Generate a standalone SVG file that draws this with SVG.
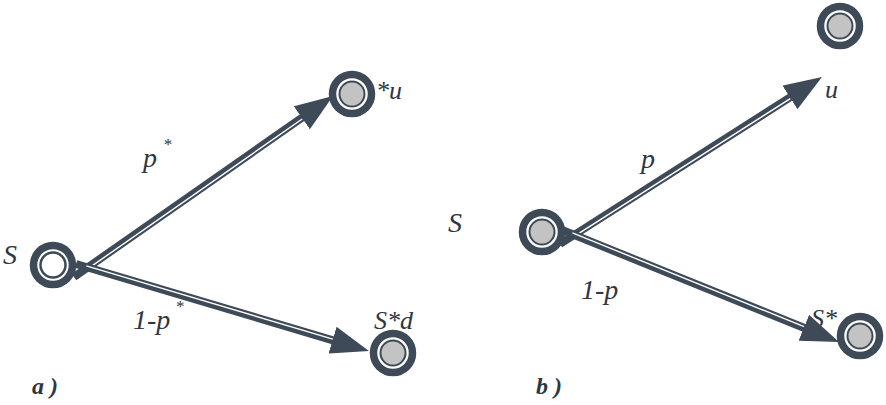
<svg xmlns="http://www.w3.org/2000/svg" width="886" height="405" viewBox="0 0 886 405">
<style>
.lbl{font-family:"Liberation Serif","Times New Roman",serif;font-style:italic;font-size:28px;fill:#2f3640}
.sm{font-size:26px}
.sup{font-size:17px}
.cap{font-family:"Liberation Serif","Times New Roman",serif;font-style:italic;font-weight:bold;font-size:24px;fill:#2f3640}
.line{stroke:#3e4a57;stroke-width:8;fill:none;marker-end:url(#head)}
.gap{stroke:#ffffff;stroke-width:1.4;fill:none}
.ring{fill:#ffffff;stroke:#3e4a57;stroke-width:7.5}
.core{fill:#c3c3c3;stroke:#3e4a57;stroke-width:2}
.core-w{fill:#ffffff;stroke:#3e4a57;stroke-width:2.5}
</style>
<defs>
<marker id="head" markerUnits="userSpaceOnUse" viewBox="0 -14 38 28" markerWidth="38" markerHeight="28" refX="18" refY="0" orient="auto">
<path d="M0,-14 L38,0 L0,14 Z" fill="#3e4a57"/>
</marker>
</defs>
<rect width="886" height="405" fill="#ffffff"/>
<g id="labels">
<text class="lbl" x="3" y="264">S</text>
<text class="lbl" x="143" y="167">p<tspan class="sup" dx="6" dy="-17">*</tspan></text>
<text class="lbl" x="133" y="329">1-p<tspan class="sup" dx="5" dy="-17">*</tspan></text>
<text class="lbl sm" x="374" y="329">S*d</text>
<text class="lbl sm" x="376" y="99">*u</text>
<text class="lbl" x="448" y="232">S</text>
<text class="lbl" x="641" y="168">p</text>
<text class="lbl" x="581" y="299">1-p</text>
<text class="lbl sm" x="811" y="327">S*</text>
<text class="lbl sm" x="825" y="98">u</text>
<text class="cap" x="32" y="394">a )</text>
<text class="cap" x="536" y="394">b )</text>
</g>
<g id="connectors">
<line class="line" x1="74" y1="277" x2="316.6" y2="107.5"/>
<line class="gap" x1="86.7" y1="269.6" x2="302.2" y2="119.0"/>
<line class="line" x1="76" y1="264" x2="349.8" y2="345.3"/>
<line class="gap" x1="86.3" y1="265.9" x2="332.8" y2="339.1"/>
<line class="line" x1="560" y1="244" x2="805.1" y2="87.75"/>
<line class="gap" x1="572.6" y1="237.4" x2="790.3" y2="98.6"/>
<line class="line" x1="562" y1="230" x2="820.5" y2="334.5"/>
<line class="gap" x1="572.4" y1="232.9" x2="804.1" y2="326.6"/>
</g>
<g id="node-a-S"><circle class="ring" cx="53" cy="265" r="19.5"/><circle class="core-w" cx="53" cy="265" r="12.5"/></g>
<g id="node-a-u"><circle class="ring" cx="352" cy="94" r="19.5"/><circle class="core" cx="352" cy="94" r="12.5"/></g>
<g id="node-a-d"><circle class="ring" cx="393" cy="353" r="19.5"/><circle class="core" cx="393" cy="353" r="12.5"/></g>
<g id="node-b-S"><circle class="ring" cx="542" cy="232" r="19.5"/><circle class="core" cx="542" cy="232" r="12.5"/></g>
<g id="node-b-u"><circle class="ring" cx="840" cy="26" r="19.5"/><circle class="core" cx="840" cy="26" r="12.5"/></g>
<g id="node-b-d"><circle class="ring" cx="860" cy="336" r="19.5"/><circle class="core" cx="860" cy="336" r="12.5"/></g>
</svg>
